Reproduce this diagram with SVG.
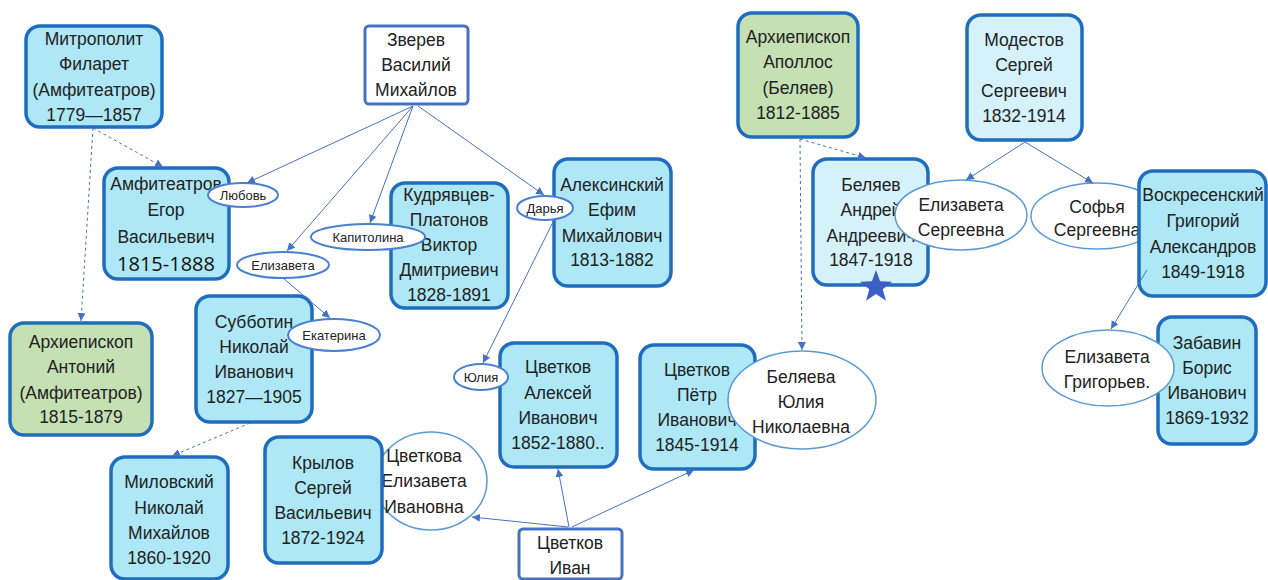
<svg xmlns="http://www.w3.org/2000/svg" width="1268" height="580" viewBox="0 0 1268 580">
<style>
.box{fill:#aee7f5;stroke:#1f6dbf;stroke-width:3.5}
.light{fill:#d5f1f9}
.green{fill:#c5e0b3}
.plain{fill:#fff;stroke:#4472c4;stroke-width:3}
.ell{fill:#fff;stroke:#5b9bd5;stroke-width:1.5}
.sell{fill:#fff;stroke:#4a80d0;stroke-width:2}
.t{font-family:"Liberation Sans",Arial,sans-serif;font-size:17.5px;fill:#222;text-anchor:middle}
.s{font-size:13px}
.big{font-family:"Open Sans","Liberation Sans",sans-serif;font-size:20px;fill:#111}
.conn{stroke:#4472c4;stroke-width:1;fill:none;marker-end:url(#arr)}
.dash{stroke-dasharray:3 3}
</style>
<defs>
<marker id="arr" markerUnits="userSpaceOnUse" markerWidth="9" markerHeight="8" refX="8" refY="4" orient="auto"><path d="M0,0 L8,4 L0,8 z" fill="#4472c4"/></marker>
</defs>
<rect width="1268" height="580" fill="#fff"/>

<g id="filaret"><rect class="box" x="26" y="26" width="136" height="101" rx="14"/>
<text class="t" x="94" y="45">Митрополит</text><text class="t" x="94" y="70">Филарет</text><text class="t" x="94" y="96">(Амфитеатров)</text><text class="t" x="94" y="121">1779—1857</text></g>

<g id="zverev"><rect class="plain" x="365" y="26" width="103" height="78" rx="4"/>
<text class="t" x="416" y="46">Зверев</text><text class="t" x="416" y="71">Василий</text><text class="t" x="416" y="96">Михайлов</text></g>

<g id="amfiteatrov"><rect class="box" x="104" y="168" width="125" height="111" rx="14"/>
<text class="t" x="166" y="190">Амфитеатров</text><text class="t" x="166" y="216">Егор</text><text class="t" x="166" y="243">Васильевич</text><text class="t big" x="166" y="271">1815-1888</text></g>

<g id="kudryavtsev"><rect class="box" x="391" y="183" width="117" height="125" rx="14"/>
<text class="t" x="449" y="201">Кудрявцев-</text><text class="t" x="449" y="226">Платонов</text><text class="t" x="449" y="251">Виктор</text><text class="t" x="449" y="276">Дмитриевич</text><text class="t" x="449" y="301">1828-1891</text></g>

<g id="aleksinsky"><rect class="box" x="554" y="159" width="117" height="127" rx="14"/>
<text class="t" x="612" y="191">Алексинский</text><text class="t" x="612" y="216">Ефим</text><text class="t" x="612" y="242">Михайлович</text><text class="t" x="612" y="266">1813-1882</text></g>

<g id="subbotin"><rect class="box" x="196" y="296" width="116" height="126" rx="14"/>
<text class="t" x="254" y="328">Субботин</text><text class="t" x="254" y="353">Николай</text><text class="t" x="254" y="378">Иванович</text><text class="t" x="254" y="403">1827—1905</text></g>

<g id="antony"><rect class="box green" x="10" y="323" width="142" height="112" rx="14"/>
<text class="t" x="81" y="348">Архиепископ</text><text class="t" x="81" y="373">Антоний</text><text class="t" x="81" y="399">(Амфитеатров)</text><text class="t" x="81" y="423">1815-1879</text></g>

<g id="milovsky"><rect class="box" x="111" y="457" width="117" height="122" rx="14"/>
<text class="t" x="169" y="488">Миловский</text><text class="t" x="169" y="514">Николай</text><text class="t" x="169" y="539">Михайлов</text><text class="t" x="169" y="564">1860-1920</text></g>

<g id="tsvetkova-ei"><ellipse class="ell" cx="431" cy="481" rx="56" ry="49"/>
<text class="t" x="424" y="462">Цветкова</text><text class="t" x="424" y="487">Елизавета</text><text class="t" x="424" y="513">Ивановна</text></g>

<g id="krylov"><rect class="box" x="265" y="437" width="117" height="126" rx="14"/>
<text class="t" x="323" y="469">Крылов</text><text class="t" x="323" y="494">Сергей</text><text class="t" x="323" y="519">Васильевич</text><text class="t" x="323" y="544">1872-1924</text></g>

<g id="tsvetkov-aleksey"><rect class="box" x="500" y="343" width="117" height="124" rx="14"/>
<text class="t" x="558" y="373">Цветков</text><text class="t" x="558" y="399">Алексей</text><text class="t" x="558" y="424">Иванович</text><text class="t" x="558" y="449">1852-1880..</text></g>

<g id="tsvetkov-petr"><rect class="box" x="640" y="345" width="115" height="124" rx="14"/>
<text class="t" x="697" y="376">Цветков</text><text class="t" x="697" y="401">Пётр</text><text class="t" x="697" y="426">Иванович</text><text class="t" x="697" y="451">1845-1914</text></g>

<g id="tsvetkov-ivan"><rect class="plain" x="519" y="529" width="103" height="50" rx="4"/>
<text class="t" x="570" y="549">Цветков</text><text class="t" x="570" y="574">Иван</text></g>

<g id="apollos"><rect class="box green" x="738" y="13" width="120" height="124" rx="14"/>
<text class="t" x="798" y="43">Архиепископ</text><text class="t" x="798" y="68">Аполлос</text><text class="t" x="798" y="94">(Беляев)</text><text class="t" x="798" y="119">1812-1885</text></g>

<g id="modestov"><rect class="box light" x="967" y="15" width="115" height="125" rx="14"/>
<text class="t" x="1024" y="46">Модестов</text><text class="t" x="1024" y="71">Сергей</text><text class="t" x="1024" y="97">Сергеевич</text><text class="t" x="1024" y="122">1832-1914</text></g>

<g id="belyaev"><rect class="box light" x="813" y="159" width="115" height="126" rx="14"/>
<text class="t" x="871" y="191">Беляев</text><text class="t" x="871" y="216">Андрей</text><text class="t" x="871" y="242">Андреевич</text><text class="t" x="871" y="266">1847-1918</text>
<polygon points="876,270 880.1,281.3 892.2,281.7 882.7,289.2 886,300.8 876,294 866,300.8 869.3,289.2 859.8,281.7 871.9,281.3" fill="#3d5fc4"/></g>

<g id="sofya"><ellipse class="ell" cx="1097" cy="216" rx="66" ry="33"/>
<text class="t" x="1097" y="213">Софья</text><text class="t" x="1097" y="236">Сергеевна</text></g>

<g id="voskresensky"><rect class="box" x="1139" y="171" width="127" height="125" rx="14"/>
<text class="t" x="1203" y="201">Воскресенский</text><text class="t" x="1203" y="227">Григорий</text><text class="t" x="1203" y="253">Александров</text><text class="t" x="1203" y="278">1849-1918</text></g>

<g id="zabavin"><rect class="box" x="1158" y="317" width="98" height="127" rx="14"/>
<text class="t" x="1207" y="349">Забавин</text><text class="t" x="1207" y="374">Борис</text><text class="t" x="1207" y="399">Иванович</text><text class="t" x="1207" y="424">1869-1932</text></g>

<g id="lyubov"><ellipse class="sell" cx="243" cy="195" rx="35" ry="12"/><text class="t s" x="243" y="199.5">Любовь</text></g>
<g id="kapitolina"><ellipse class="sell" cx="368" cy="237" rx="57" ry="13"/><text class="t s" x="368" y="241.5">Капитолина</text></g>
<g id="elizaveta"><ellipse class="sell" cx="283" cy="265" rx="46" ry="13"/><text class="t s" x="283" y="269.5">Елизавета</text></g>
<g id="darya"><ellipse class="sell" cx="545" cy="208" rx="28" ry="12"/><text class="t s" x="545" y="212.5">Дарья</text></g>
<g id="yuliya"><ellipse class="sell" cx="481" cy="377" rx="27" ry="13"/><text class="t s" x="481" y="381.5">Юлия</text></g>
<g id="ekaterina"><ellipse class="sell" cx="334" cy="335" rx="46" ry="16"/><text class="t s" x="334" y="339.5">Екатерина</text></g>

<g id="belyaeva-yun"><ellipse class="ell" cx="802" cy="400" rx="74" ry="49"/>
<text class="t" x="801" y="383">Беляева</text><text class="t" x="801" y="408">Юлия</text><text class="t" x="801" y="433">Николаевна</text></g>

<g id="elizaveta-s"><ellipse class="ell" cx="961" cy="215" rx="66" ry="35"/>
<text class="t" x="961" y="211">Елизавета</text><text class="t" x="961" y="236">Сергеевна</text></g>

<g id="elizaveta-g"><ellipse class="ell" cx="1108" cy="368" rx="66" ry="38"/>
<text class="t" x="1107" y="363">Елизавета</text><text class="t" x="1107" y="388">Григорьев.</text></g>

<g id="connectors">
<line class="conn dash" x1="93" y1="128" x2="163" y2="167"/>
<line class="conn dash" x1="93" y1="128" x2="81" y2="321"/>
<line class="conn" x1="413" y1="106" x2="247" y2="183"/>
<line class="conn" x1="413" y1="106" x2="287" y2="251"/>
<line class="conn" x1="413" y1="106" x2="370" y2="223"/>
<line class="conn" x1="418" y1="106" x2="544" y2="195"/>
<line class="conn" x1="283" y1="278" x2="330" y2="318"/>
<line class="conn" x1="553" y1="222" x2="483" y2="363"/>
<line class="conn dash" x1="250" y1="423" x2="172" y2="456"/>
<line class="conn" x1="568" y1="527" x2="472" y2="517"/>
<line class="conn" x1="569" y1="527" x2="558" y2="469"/>
<line class="conn" x1="572" y1="527" x2="694" y2="470"/>
<line class="conn dash" x1="800" y1="139" x2="866" y2="158"/>
<line class="conn dash" x1="800" y1="139" x2="802" y2="350"/>
<line class="conn" x1="1025" y1="142" x2="966" y2="180"/>
<line class="conn" x1="1025" y1="142" x2="1093" y2="183"/>
<line class="conn" x1="1147" y1="270" x2="1111" y2="329"/>
</g>
</svg>
